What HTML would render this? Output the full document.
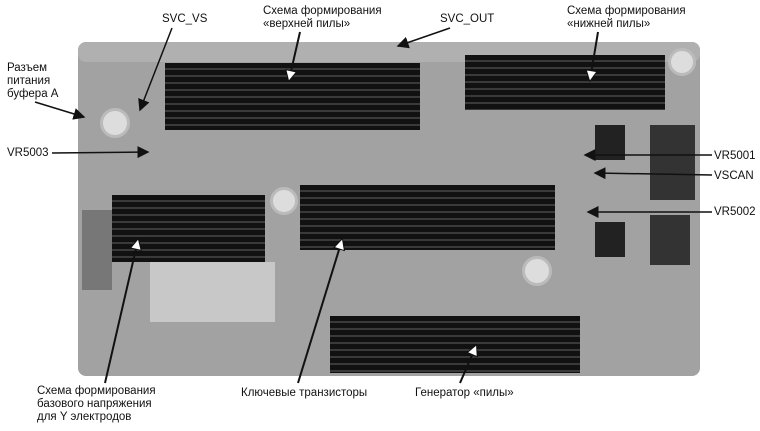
<!DOCTYPE html><html><head><meta charset="utf-8"><style>
body{margin:0;width:760px;height:431px;background:#fff;position:relative;overflow:hidden;font-family:"Liberation Sans",sans-serif;}
.b{position:absolute;background:#a2a2a2;border-radius:8px}
.h{position:absolute;background:repeating-linear-gradient(180deg,#111 0 5px,#3a3a3a 5px 7px);}
.t{position:absolute;font-size:11.5px;color:#111;line-height:13px;white-space:nowrap}
.c{position:absolute;border-radius:50%;background:#ddd;border:3px solid #bbb}
</style></head><body>
<div class="b" style="left:78px;top:42px;width:622px;height:334px"></div>
<div class="b" style="left:78px;top:42px;width:622px;height:20px;background:#b0b0b0"></div>
<div class="h" style="left:165px;top:63px;width:255px;height:67px"></div>
<div class="h" style="left:465px;top:55px;width:200px;height:55px"></div>
<div class="h" style="left:112px;top:195px;width:153px;height:67px"></div>
<div class="h" style="left:300px;top:185px;width:255px;height:65px"></div>
<div class="h" style="left:330px;top:316px;width:250px;height:57px"></div>
<div class="c" style="left:100px;top:108px;width:24px;height:24px"></div>
<div class="c" style="left:522px;top:256px;width:24px;height:24px"></div>
<div class="c" style="left:270px;top:187px;width:22px;height:22px"></div>
<div class="c" style="left:668px;top:48px;width:22px;height:22px"></div>
<div style="position:absolute;left:150px;top:262px;width:125px;height:60px;background:#c8c8c8"></div>
<div style="position:absolute;left:595px;top:125px;width:30px;height:35px;background:#222"></div>
<div style="position:absolute;left:595px;top:222px;width:30px;height:35px;background:#222"></div>
<div style="position:absolute;left:650px;top:125px;width:45px;height:75px;background:#333"></div>
<div style="position:absolute;left:650px;top:215px;width:40px;height:50px;background:#333"></div>
<div style="position:absolute;left:82px;top:210px;width:30px;height:80px;background:#777"></div>
<div class="t" style="left:162px;top:13px">SVC_VS</div>
<div class="t" style="left:263px;top:5px">Схема формирования<br>«верхней пилы»</div>
<div class="t" style="left:440px;top:13px">SVC_OUT</div>
<div class="t" style="left:567px;top:5px">Схема формирования<br>«нижней пилы»</div>
<div class="t" style="left:7px;top:62px">Разъем<br>питания<br>буфера А</div>
<div class="t" style="left:7px;top:147px">VR5003</div>
<div class="t" style="left:714px;top:150px">VR5001</div>
<div class="t" style="left:714px;top:170px">VSCAN</div>
<div class="t" style="left:714px;top:206px">VR5002</div>
<div class="t" style="left:37px;top:385px">Схема формирования<br>базового напряжения<br>для Y электродов</div>
<div class="t" style="left:241px;top:387px">Ключевые транзисторы</div>
<div class="t" style="left:415px;top:387px">Генератор «пилы»</div>
<svg width="760" height="431" style="position:absolute;left:0;top:0">
<defs><marker id="a" markerWidth="8" markerHeight="8" refX="7" refY="4" orient="auto"><path d="M0,0L8,4L0,8z" fill="#111"/></marker>
<marker id="w" markerWidth="6" markerHeight="6" refX="5" refY="3" orient="auto"><path d="M0.3,0.3L5.7,3L0.3,5.7z" fill="#fff" stroke="#111" stroke-width="0.5"/></marker></defs>
<g stroke="#111" stroke-width="1.5" marker-end="url(#a)">
<line x1="172" y1="28" x2="140" y2="110"/>
<line x1="450" y1="28" x2="398" y2="46"/>
<line x1="35" y1="102" x2="84" y2="117"/>
<line x1="52" y1="153" x2="148" y2="152"/>
<line x1="712" y1="155" x2="585" y2="155"/>
<line x1="712" y1="175" x2="595" y2="173"/>
<line x1="712" y1="212" x2="588" y2="212"/>
</g>
<g stroke="#111" stroke-width="2" marker-end="url(#w)">
<line x1="300" y1="32" x2="289" y2="80"/>
<line x1="598" y1="32" x2="590" y2="80"/>
<line x1="105" y1="383" x2="138" y2="240"/>
<line x1="298" y1="383" x2="342" y2="240"/>
<line x1="460" y1="383" x2="476" y2="346"/>
</g></svg>
</body></html>
